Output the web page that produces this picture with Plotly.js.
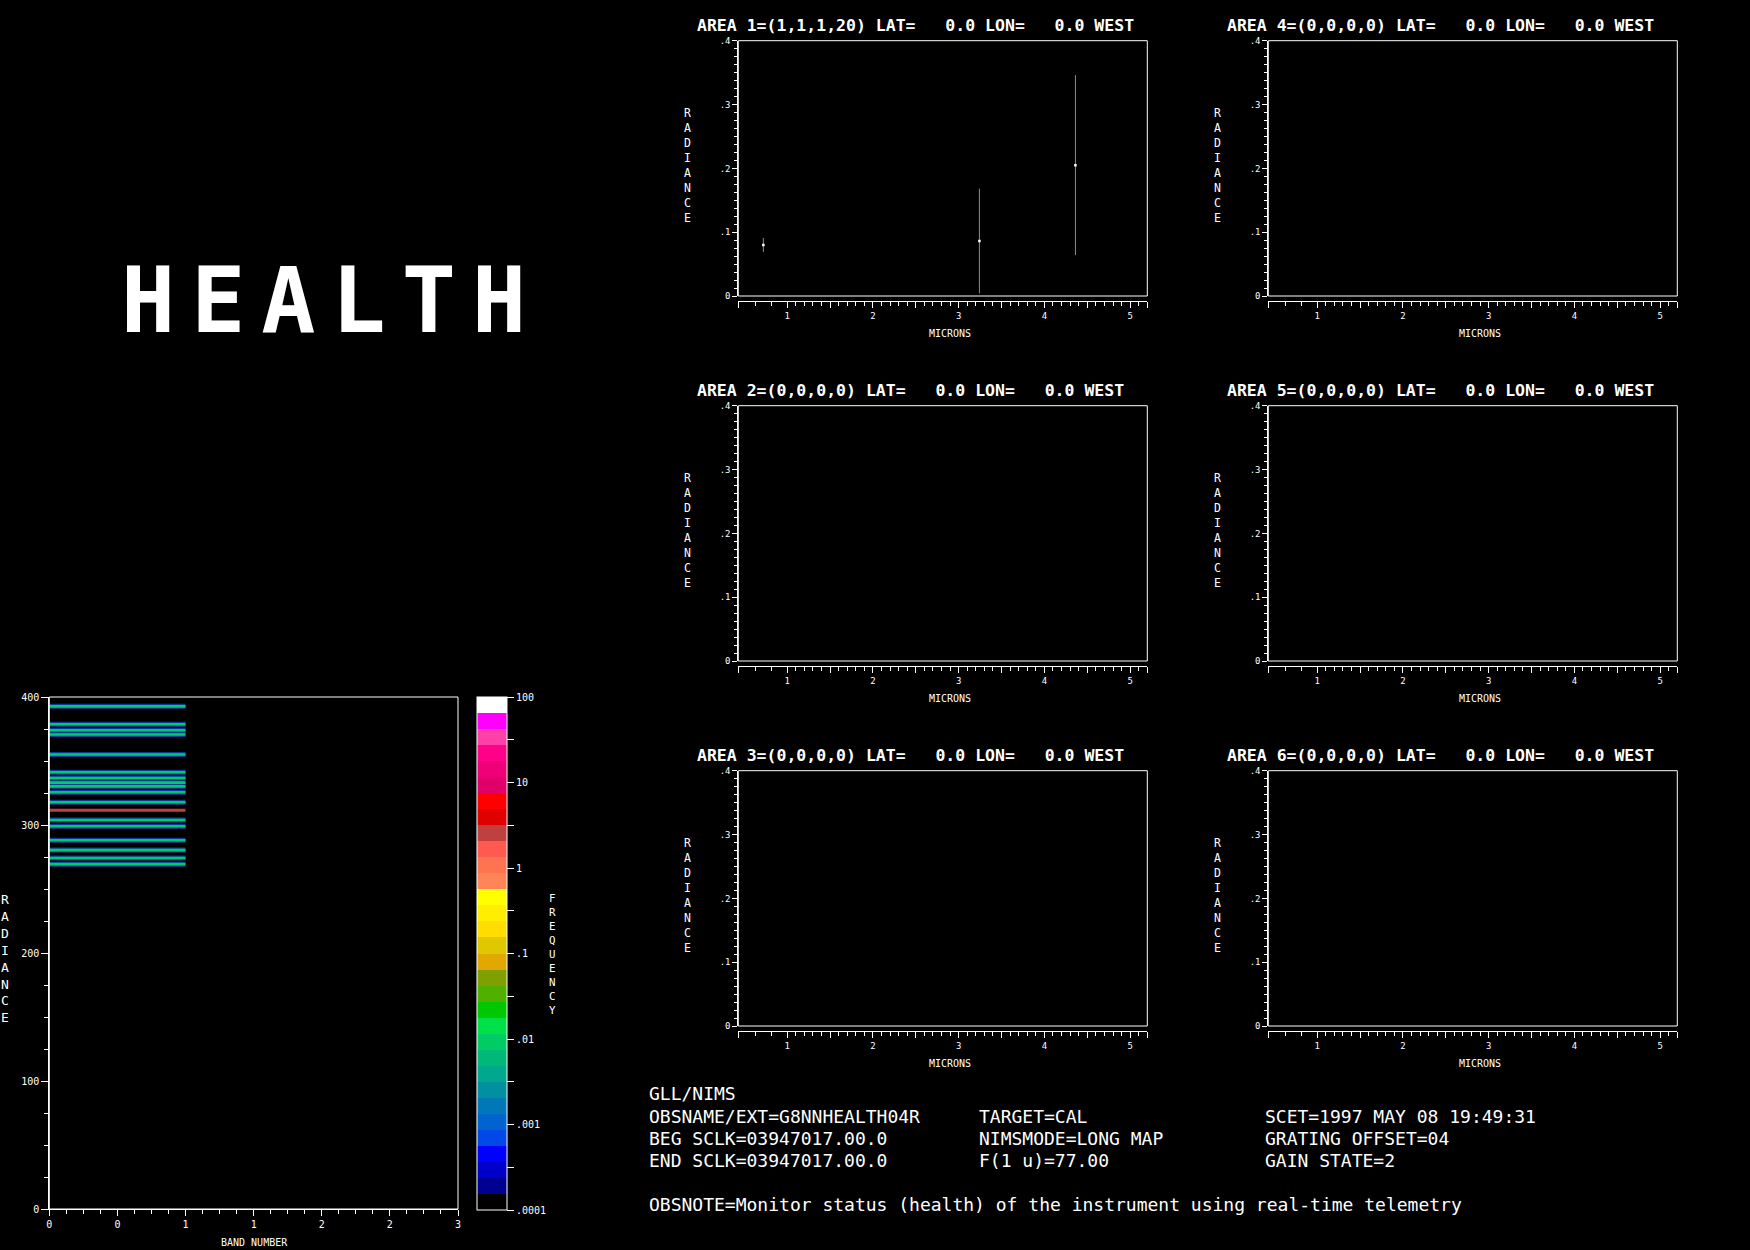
<!DOCTYPE html>
<html>
<head>
<meta charset="utf-8">
<script src="https://cdn.plot.ly/plotly-3.0.1.min.js"></script>
<style>
html,body{margin:0;padding:0;background:#000;}
#chart{width:1750px;height:1250px;}
g.annotation[data-index="0"] text.annotation-text{letter-spacing:16px;}
</style>
</head>
<body>
<div id="chart"></div>
<script>
// ---------------- DATA ----------------
const pageTitle = 'HEALTH';

const areaTitles = [
  'AREA 1=(1,1,1,20) LAT=   0.0 LON=   0.0 WEST',
  'AREA 2=(0,0,0,0) LAT=   0.0 LON=   0.0 WEST',
  'AREA 3=(0,0,0,0) LAT=   0.0 LON=   0.0 WEST',
  'AREA 4=(0,0,0,0) LAT=   0.0 LON=   0.0 WEST',
  'AREA 5=(0,0,0,0) LAT=   0.0 LON=   0.0 WEST',
  'AREA 6=(0,0,0,0) LAT=   0.0 LON=   0.0 WEST'
];

// Area 1 spectrum: mean radiance with +/- spread at three wavelengths
const area1Microns   = [0.722, 3.242, 4.362];
const area1Radiance  = [0.080, 0.086, 0.205];
const area1Spread    = [0.011, 0.082, 0.141];
// Areas 2-6 are empty
const emptyMicrons = [];
const emptyRadiance = [];

const radianceTickVals = [0, 0.1, 0.2, 0.3, 0.4];
const radianceTickText = ['0', '.1', '.2', '.3', '.4'];
const micronTickVals = [0.43, 1, 1.5, 2, 2.5, 3, 3.5, 4, 4.5, 5, 5.2];
const micronTickText = ['', '1', '', '2', '', '3', '', '4', '', '5', ''];
const micronMinorStart = [0.63, 0.82];

// Histogram (radiance vs band number, coloured by frequency)
const histRadiance = [392.7, 378.7, 374.0, 370.7, 355.1, 341.2, 336.7, 333.1, 330.2,
                      325.6, 317.8, 311.6, 303.9, 299.0, 288.1, 280.4, 274.2, 269.4];
const histFrequency = [0.008, 0.008, 0.008, 0.008, 0.008, 0.008, 0.008, 0.008, 0.008,
                       0.008, 0.008, 2.5, 0.008, 0.008, 0.008, 0.008, 0.008, 0.008];
const histBandStart = [0];
const histBandEnd = [1];
const histXTickVals = [0, 0.5, 1, 1.5, 2, 2.5, 3];
const histXTickText = ['0', '0', '1', '1', '2', '2', '3'];
const histYTickVals = [0, 100, 200, 300, 400];
const histYTickText = ['0', '100', '200', '300', '400'];

// Frequency colour bar
const freqTickVals = [-4, -3.5, -3, -2.5, -2, -1.5, -1, -0.5, 0, 0.5, 1, 1.5, 2];
const freqTickText = ['.0001', '', '.001', '', '.01', '', '.1', '', '1', '', '10', '', '100'];
const freqPalette = [ // bottom -> top
  '#000000', '#000090', '#0000c8', '#0000ff', '#0048e8', '#0064d0', '#0078b8', '#0090a0',
  '#00a890', '#00b878', '#00cc66', '#00e048', '#00c800', '#50b000', '#80a000', '#e0a800',
  '#e0c800', '#ffdd00', '#ffee00', '#ffff00', '#ff8458', '#ff7450', '#ff5a50', '#c04040',
  '#e00000', '#ff0000', '#e0006a', '#f00078', '#ff0088', '#ff40a8', '#ff00ff', '#ffffff'
];

// Header text
const infoCol1 = ['GLL/NIMS', 'OBSNAME/EXT=G8NNHEALTH04R', 'BEG SCLK=03947017.00.0', 'END SCLK=03947017.00.0'];
const infoCol2 = ['TARGET=CAL', 'NIMSMODE=LONG MAP', 'F(1 u)=77.00'];
const infoCol3 = ['SCET=1997 MAY 08 19:49:31', 'GRATING OFFSET=04', 'GAIN STATE=2'];
const obsNote = 'OBSNOTE=Monitor status (health) of the instrument using real-time telemetry';

// ---------------- LAYOUT HELPERS ----------------
const W = 1750, H = 1250;
const px = x => x / W;
const py = y => 1 - y / H;
const MONO = 'DejaVu Sans Mono';
const nb = s => s.replace(/ /g, '\u00a0');

const colLeft = [738.3, 1268.3], colRight = [1147.3, 1677.3];
const rowTop = [40.7, 405.7, 770.7], boxH = 255.3, axisGap = 5;

function range(a, b, step) { const out = []; for (let v = a; v <= b + 1e-9; v += step) out.push(+v.toFixed(5)); return out; }
const isMult = (v, m) => Math.abs(v / m - Math.round(v / m)) < 1e-6;

const radMinor = range(0.0125, 0.3875, 0.0125).filter(v => !isMult(v, 0.1));
const micMinor = micronMinorStart.concat(range(1.1, 5.1, 0.1).filter(v => !isMult(v, 0.5)));
const histXMinor = range(0.125, 2.875, 0.125).filter(v => !isMult(v, 0.5));
const histYMinor = range(25, 375, 25).filter(v => !isMult(v, 100));

function freqColor(f) {
  let i = Math.floor((Math.log10(f) + 4) / 6 * freqPalette.length);
  i = Math.max(0, Math.min(freqPalette.length - 1, i));
  return freqPalette[i];
}
const colorscale = [];
freqPalette.forEach((c, i) => { colorscale.push([i / 32, c]); colorscale.push([(i + 1) / 32, c]); });

const tickFont = { family: MONO, size: 9, color: '#ffffff' };
const layout = {
  width: W, height: H, autosize: false,
  margin: { l: 0, r: 0, t: 0, b: 0, pad: 0 },
  paper_bgcolor: '#000000', plot_bgcolor: '#000000',
  showlegend: false,
  font: { family: MONO, color: '#ffffff' },
  annotations: [], shapes: []
};
const traces = [];

// title
layout.annotations.push({
  text: pageTitle, x: px(167), y: py(300), xref: 'paper', yref: 'paper',
  xanchor: 'left', yanchor: 'middle', showarrow: false,
  font: { family: MONO, size: 90, color: '#ffffff', weight: 'bold' }
});

// ---------------- SIX SPECTRUM PANELS ----------------
for (let k = 0; k < 6; k++) {
  const col = k < 3 ? 0 : 1, row = k % 3;
  const n = k + 1, sfx = n === 1 ? '' : String(n);
  const L = colLeft[col], R = colRight[col], T = rowTop[row], B = T + boxH;
  layout['xaxis' + sfx] = {
    domain: [px(L), px(R)], anchor: 'free', position: py(B + axisGap),
    range: [0.43, 5.2], showline: true, linecolor: '#ffffff', linewidth: 1,
    ticks: 'outside', ticklen: 6, tickwidth: 1, tickcolor: '#ffffff',
    tickmode: 'array', tickvals: micronTickVals, ticktext: micronTickText,
    tickfont: tickFont, showgrid: false, zeroline: false, fixedrange: true,
    minor: { tickmode: 'array', tickvals: micMinor, ticks: 'outside', ticklen: 3.5, tickwidth: 1, tickcolor: '#ffffff', showgrid: false }
  };
  layout['yaxis' + sfx] = {
    domain: [py(B), py(T)], anchor: 'x' + sfx,
    range: [0, 0.4], showline: true, linecolor: '#ffffff', linewidth: 1,
    ticks: 'outside', ticklen: 5, tickwidth: 1, tickcolor: '#ffffff',
    tickmode: 'array', tickvals: radianceTickVals, ticktext: radianceTickText,
    tickfont: tickFont, showgrid: false, zeroline: false, fixedrange: true,
    minor: { tickmode: 'array', tickvals: radMinor, ticks: 'outside', ticklen: 3, tickwidth: 1, tickcolor: '#ffffff', showgrid: false }
  };
  layout.shapes.push({
    type: 'rect', xref: 'x' + sfx + ' domain', yref: 'y' + sfx + ' domain',
    x0: 0, x1: 1, y0: 0, y1: 1, line: { color: '#ffffff', width: 1 }, layer: 'above'
  });
  const xs = k === 0 ? area1Microns : emptyMicrons;
  const ys = k === 0 ? area1Radiance : emptyRadiance;
  const tr = {
    type: 'scatter', mode: 'markers', x: xs, y: ys, xaxis: 'x' + sfx, yaxis: 'y' + sfx,
    marker: { color: '#ffffff', size: 2.5, symbol: 'square', line: { width: 0 } },
    hoverinfo: 'skip'
  };
  if (k === 0) tr.error_y = { type: 'data', array: area1Spread, visible: true, color: '#8c8c8c', thickness: 1, width: 0 };
  traces.push(tr);

  layout.annotations.push({
    text: nb(areaTitles[k]), x: px(L - 43.3), y: py(T - 15), xref: 'paper', yref: 'paper',
    xanchor: 'left', yanchor: 'middle', showarrow: false,
    font: { family: MONO, size: 16.5, color: '#ffffff', weight: 'bold' }
  });
  layout.annotations.push({
    text: 'R<br>A<br>D<br>I<br>A<br>N<br>C<br>E', x: px(L - 51.3), y: py(T + 125.1), xref: 'paper', yref: 'paper',
    xanchor: 'center', yanchor: 'middle', showarrow: false,
    font: { family: MONO, size: 11.5, color: '#ffffff' }
  });
  layout.annotations.push({
    text: 'MICRONS', x: px(L + 212), y: py(B + 37.5), xref: 'paper', yref: 'paper',
    xanchor: 'center', yanchor: 'middle', showarrow: false,
    font: { family: MONO, size: 10, color: '#ffffff' }
  });
}

// ---------------- HISTOGRAM PANEL ----------------
layout.xaxis7 = {
  domain: [px(49.3), px(458)], anchor: 'y7', range: [0, 3],
  showline: true, linecolor: '#ffffff', linewidth: 1,
  ticks: 'outside', ticklen: 6, tickwidth: 1, tickcolor: '#ffffff',
  tickmode: 'array', tickvals: histXTickVals, ticktext: histXTickText,
  tickfont: { family: MONO, size: 10, color: '#ffffff' }, showgrid: false, zeroline: false, fixedrange: true,
  minor: { tickmode: 'array', tickvals: histXMinor, ticks: 'outside', ticklen: 4, tickwidth: 1, tickcolor: '#ffffff', showgrid: false }
};
layout.yaxis7 = {
  domain: [py(1209), py(697)], anchor: 'x7', range: [0, 400],
  showline: true, linecolor: '#ffffff', linewidth: 1,
  ticks: 'outside', ticklen: 7, tickwidth: 1, tickcolor: '#ffffff',
  tickmode: 'array', tickvals: histYTickVals, ticktext: histYTickText,
  tickfont: { family: MONO, size: 10, color: '#ffffff' }, showgrid: false, zeroline: false, fixedrange: true,
  minor: { tickmode: 'array', tickvals: histYMinor, ticks: 'outside', ticklen: 4, tickwidth: 1, tickcolor: '#ffffff', showgrid: false }
};
layout.shapes.push({
  type: 'rect', xref: 'x7 domain', yref: 'y7 domain', x0: 0, x1: 1, y0: 0, y1: 1,
  line: { color: '#ffffff', width: 1 }, layer: 'above'
});

(function () {
  // low-frequency neighbour bins (blue fringe) under the sparse rows
  const fx = [], fy = [];
  histRadiance.forEach((v, i) => {
    if (histFrequency[i] < 0.1) { fx.push(histBandStart[0], histBandEnd[0], null); fy.push(v, v, null); }
  });
  traces.push({ type: 'scatter', mode: 'lines', x: fx, y: fy, xaxis: 'x7', yaxis: 'y7',
    line: { color: '#0a3a9c', width: 5 }, hoverinfo: 'skip' });
  const groups = {};
  histRadiance.forEach((v, i) => {
    const c = freqColor(histFrequency[i]);
    if (!groups[c]) groups[c] = { x: [], y: [], w: histFrequency[i] < 0.1 ? 2.6 : 3 };
    groups[c].x.push(histBandStart[0], histBandEnd[0], null);
    groups[c].y.push(v, v, null);
  });
  Object.keys(groups).forEach(c => {
    traces.push({ type: 'scatter', mode: 'lines', x: groups[c].x, y: groups[c].y, xaxis: 'x7', yaxis: 'y7',
      line: { color: c, width: groups[c].w }, hoverinfo: 'skip' });
  });
  // colour-bar carrier
  traces.push({
    type: 'scatter', mode: 'markers', xaxis: 'x7', yaxis: 'y7',
    x: histRadiance.map(() => (histBandStart[0] + histBandEnd[0]) / 2), y: histRadiance,
    hoverinfo: 'skip',
    marker: {
      size: 1, opacity: 0, color: histFrequency.map(f => Math.log10(f)),
      colorscale: colorscale, cmin: -4, cmax: 2, showscale: true,
      colorbar: {
        x: px(477), xanchor: 'left', y: py(1210), yanchor: 'bottom',
        len: 513 / H, lenmode: 'fraction', thickness: 30, thicknessmode: 'pixels',
        outlinewidth: 1, outlinecolor: '#ffffff', borderwidth: 0, xpad: 0, ypad: 0,
        tickmode: 'array', tickvals: freqTickVals, ticktext: freqTickText,
        ticks: 'outside', ticklen: 7, tickwidth: 1, tickcolor: '#ffffff',
        tickfont: { family: MONO, size: 10, color: '#ffffff' }
      }
    }
  });
})();

layout.annotations.push({
  text: 'R<br>A<br>D<br>I<br>A<br>N<br>C<br>E', x: px(4.5), y: py(958.5), xref: 'paper', yref: 'paper',
  xanchor: 'center', yanchor: 'middle', showarrow: false, font: { family: MONO, size: 13, color: '#ffffff' }
});
layout.annotations.push({
  text: 'BAND NUMBER', x: px(254.5), y: py(1242), xref: 'paper', yref: 'paper',
  xanchor: 'center', yanchor: 'middle', showarrow: false, font: { family: MONO, size: 10, color: '#ffffff' }
});
layout.annotations.push({
  text: 'F<br>R<br>E<br>Q<br>U<br>E<br>N<br>C<br>Y', x: px(552.7), y: py(954), xref: 'paper', yref: 'paper',
  xanchor: 'center', yanchor: 'middle', showarrow: false, font: { family: MONO, size: 10.8, color: '#ffffff' }
});

// ---------------- HEADER TEXT ----------------
const lineY = [1093.8, 1116, 1138.4, 1160.7];
const infoFont = { family: MONO, size: 18, color: '#ffffff' };
function infoLine(txt, x, y) {
  layout.annotations.push({ text: nb(txt), x: px(x), y: py(y), xref: 'paper', yref: 'paper',
    xanchor: 'left', yanchor: 'middle', showarrow: false, font: infoFont });
}
infoCol1.forEach((t, i) => infoLine(t, 647, lineY[i]));
infoCol2.forEach((t, i) => infoLine(t, 977, lineY[i + 1]));
infoCol3.forEach((t, i) => infoLine(t, 1263, lineY[i + 1]));
infoLine(obsNote, 647, 1204.3);

Plotly.newPlot('chart', traces, layout, { displayModeBar: false, staticPlot: true });
</script>
</body>
</html>
